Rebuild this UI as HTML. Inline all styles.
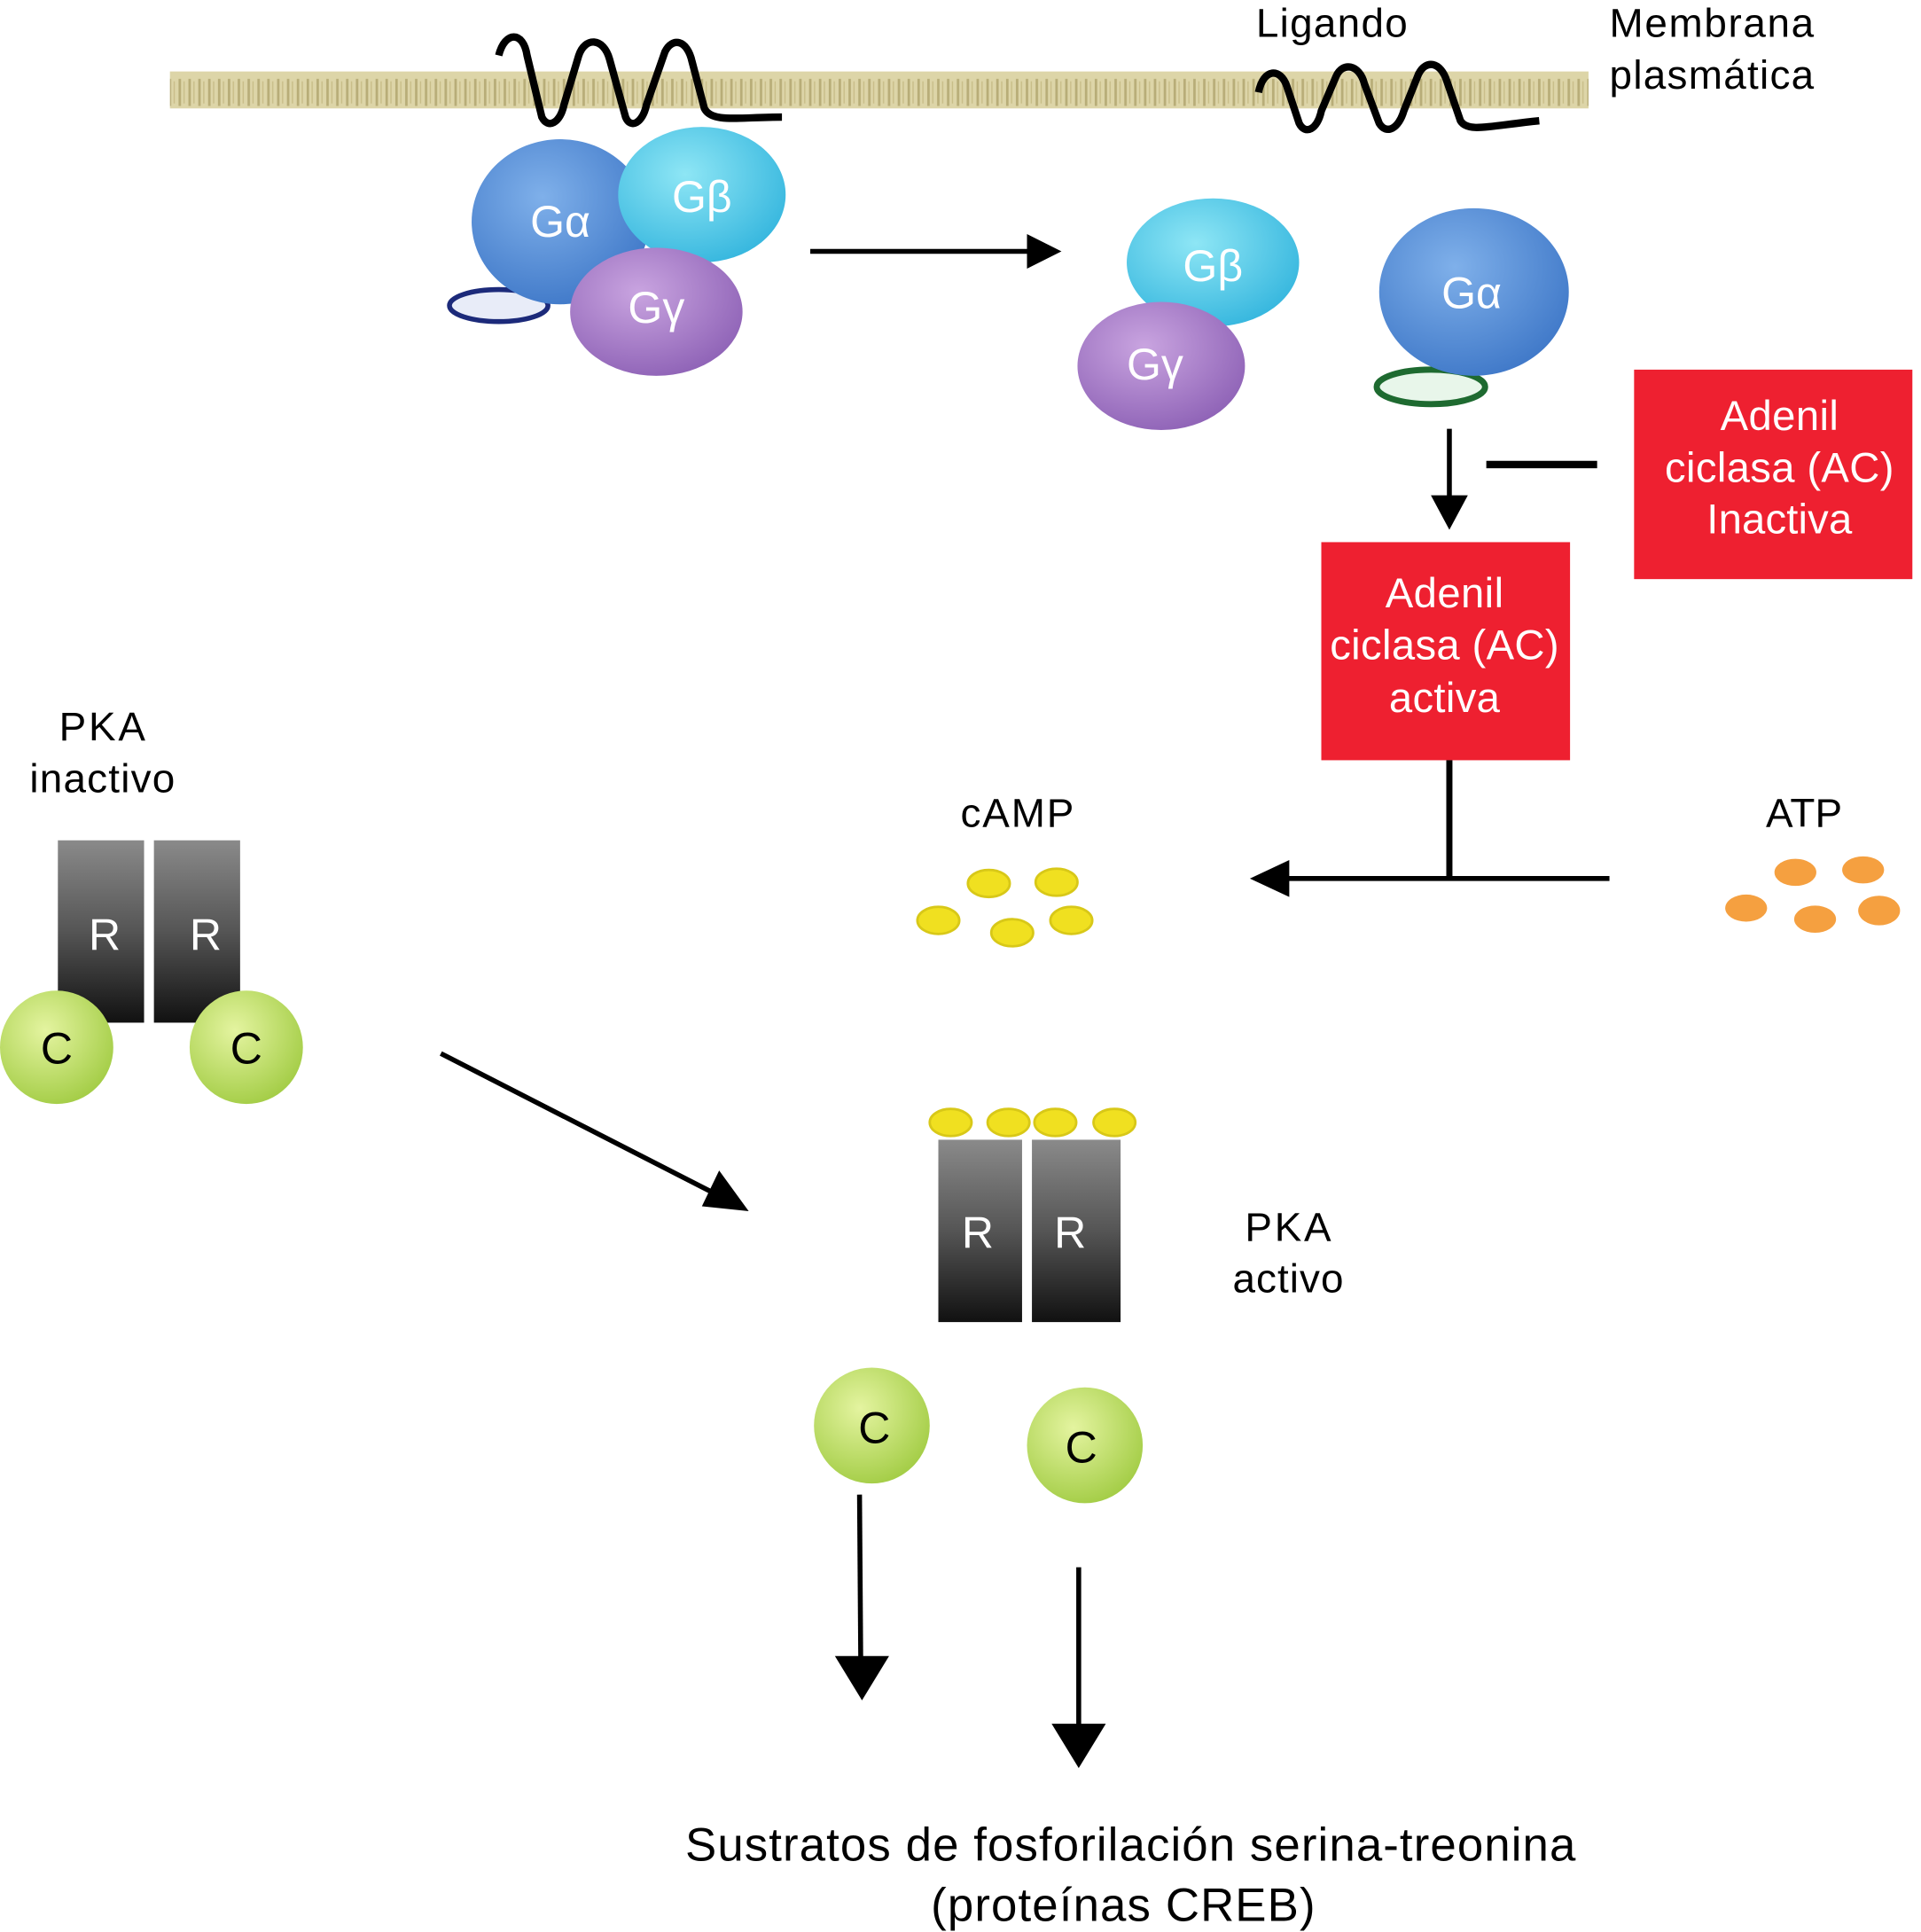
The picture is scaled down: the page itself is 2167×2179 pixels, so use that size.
<!DOCTYPE html>
<html><head><meta charset="utf-8"><style>
html,body{margin:0;padding:0;background:#fff}
svg{display:block}
text{font-family:"Liberation Sans",sans-serif}
</style></head><body>
<svg width="2167" height="2179" viewBox="0 0 1560 1568" preserveAspectRatio="none" xmlns="http://www.w3.org/2000/svg">
<defs>
<radialGradient id="ga" cx="40%" cy="35%" r="70%"><stop offset="0" stop-color="#7fb0ea"/><stop offset="1" stop-color="#3f78c8"/></radialGradient>
<radialGradient id="gb" cx="40%" cy="35%" r="70%"><stop offset="0" stop-color="#8ee6f5"/><stop offset="1" stop-color="#35b6de"/></radialGradient>
<radialGradient id="gg" cx="40%" cy="35%" r="70%"><stop offset="0" stop-color="#c9a4e0"/><stop offset="1" stop-color="#8e62b6"/></radialGradient>
<radialGradient id="gc" cx="40%" cy="35%" r="70%"><stop offset="0" stop-color="#e4f4a0"/><stop offset="1" stop-color="#a2cc44"/></radialGradient>
<linearGradient id="gr" x1="0" y1="0" x2="0" y2="1"><stop offset="0" stop-color="#8a8a8a"/><stop offset="0.5" stop-color="#555"/><stop offset="1" stop-color="#111"/></linearGradient>
<pattern id="mem" width="8" height="30" patternUnits="userSpaceOnUse"><rect width="8" height="30" fill="#ddd5a8"/><rect x="1" y="4" width="2" height="22" fill="#b8ad78"/><rect x="5" y="6" width="1" height="18" fill="#c8bd88"/></pattern>
</defs>
<rect x="138" y="58" width="1152" height="30" fill="url(#mem)"/>
<path d="M405,45 C410,25 425,25 428,45 L440,95 C445,105 455,100 458,85 L470,45 C475,30 490,30 495,48 L508,95 C512,105 522,100 525,85 L540,42 C546,30 558,32 562,50 L572,88 C578,100 600,95 635,95" fill="none" stroke="#000" stroke-width="6"/>
<path d="M1022,75 C1026,55 1040,55 1045,70 L1055,100 C1060,110 1070,105 1073,90 L1085,62 C1090,50 1104,52 1108,68 L1120,100 C1126,110 1136,104 1140,90 L1152,60 C1158,48 1170,50 1175,66 L1186,98 C1192,108 1210,102 1250,98" fill="none" stroke="#000" stroke-width="6"/>
<text x="1020" y="30" font-size="33" textLength="123">Ligando</text>
<text x="1307" y="30" font-size="33" textLength="166">Membrana</text>
<text x="1307" y="72" font-size="33" textLength="166">plasmática</text>
<ellipse cx="405" cy="248" rx="40" ry="13" fill="#e8ecf8" stroke="#1c2a7a" stroke-width="4"/>
<ellipse cx="455" cy="180" rx="72" ry="67" fill="url(#ga)"/>
<ellipse cx="570" cy="158" rx="68" ry="55" fill="url(#gb)"/>
<ellipse cx="533" cy="253" rx="70" ry="52" fill="url(#gg)"/>
<text x="455" y="192" font-size="36" fill="#fff" text-anchor="middle">Gα</text>
<text x="570" y="172" font-size="36" fill="#fff" text-anchor="middle">Gβ</text>
<text x="533" y="262" font-size="36" fill="#fff" text-anchor="middle">Gγ</text>
<line x1="658" y1="204" x2="838" y2="204" stroke="#000" stroke-width="4"/>
<polygon points="862,204 834,190 834,218" fill="#000"/>
<ellipse cx="985" cy="213" rx="70" ry="52" fill="url(#gb)"/>
<ellipse cx="943" cy="297" rx="68" ry="52" fill="url(#gg)"/>
<text x="985" y="228" font-size="36" fill="#fff" text-anchor="middle">Gβ</text>
<text x="938" y="308" font-size="36" fill="#fff" text-anchor="middle">Gγ</text>
<ellipse cx="1162" cy="314" rx="44" ry="14" fill="#e8f6ea" stroke="#1e6a30" stroke-width="5"/>
<ellipse cx="1197" cy="237" rx="77" ry="68" fill="url(#ga)"/>
<text x="1195" y="250" font-size="36" fill="#fff" text-anchor="middle">Gα</text>
<line x1="1177" y1="348" x2="1177" y2="405" stroke="#000" stroke-width="4"/>
<polygon points="1177,430 1162,402 1192,402" fill="#000"/>
<line x1="1207" y1="377" x2="1297" y2="377" stroke="#000" stroke-width="6"/>
<rect x="1327" y="300" width="226" height="170" fill="#ee2030"/>
<text x="1445" y="349" font-size="34" fill="#fff" text-anchor="middle" textLength="96">Adenil</text>
<text x="1445" y="391" font-size="34" fill="#fff" text-anchor="middle" textLength="186">ciclasa (AC)</text>
<text x="1445" y="433" font-size="34" fill="#fff" text-anchor="middle" textLength="118">Inactiva</text>
<rect x="1073" y="440" width="202" height="177" fill="#ee2030"/>
<text x="1173" y="493" font-size="34" fill="#fff" text-anchor="middle" textLength="96">Adenil</text>
<text x="1173" y="535" font-size="34" fill="#fff" text-anchor="middle" textLength="186">ciclasa (AC)</text>
<text x="1173" y="578" font-size="34" fill="#fff" text-anchor="middle" textLength="90">activa</text>
<line x1="1177" y1="617" x2="1177" y2="713" stroke="#000" stroke-width="5"/>
<line x1="1307" y1="713" x2="1040" y2="713" stroke="#000" stroke-width="4"/>
<polygon points="1015,713 1047,698 1047,728" fill="#000"/>
<text x="826" y="671" font-size="33" text-anchor="middle" textLength="92">cAMP</text>
<text x="1465" y="671" font-size="33" text-anchor="middle" textLength="62">ATP</text>
<g fill="#f0e020" stroke="#d8c818" stroke-width="2">
<ellipse cx="803" cy="717" rx="17" ry="11"/><ellipse cx="858" cy="716" rx="17" ry="11"/><ellipse cx="762" cy="747" rx="17" ry="11"/><ellipse cx="822" cy="757" rx="17" ry="11"/><ellipse cx="870" cy="747" rx="17" ry="11"/>
</g>
<g fill="#f5a040">
<ellipse cx="1458" cy="708" rx="17" ry="11"/><ellipse cx="1513" cy="706" rx="17" ry="11"/><ellipse cx="1418" cy="737" rx="17" ry="11"/><ellipse cx="1474" cy="746" rx="17" ry="11"/><ellipse cx="1526" cy="739" rx="17" ry="12"/>
</g>
<text x="83" y="601" font-size="33" text-anchor="middle" textLength="70">PKA</text>
<text x="83" y="643" font-size="33" text-anchor="middle" textLength="118">inactivo</text>
<rect x="47" y="682" width="70" height="148" fill="url(#gr)"/>
<rect x="125" y="682" width="70" height="148" fill="url(#gr)"/>
<text x="85" y="771" font-size="36" fill="#fff" text-anchor="middle">R</text>
<text x="167" y="771" font-size="36" fill="#fff" text-anchor="middle">R</text>
<circle cx="46" cy="850" r="46" fill="url(#gc)"/>
<circle cx="200" cy="850" r="46" fill="url(#gc)"/>
<text x="46" y="863" font-size="36" text-anchor="middle">C</text>
<text x="200" y="863" font-size="36" text-anchor="middle">C</text>
<line x1="358" y1="855" x2="585" y2="971" stroke="#000" stroke-width="4"/>
<polygon points="608,983 570,979 584,950" fill="#000"/>
<g fill="#f0e020" stroke="#d8c818" stroke-width="2">
<ellipse cx="772" cy="911" rx="17" ry="11"/><ellipse cx="819" cy="911" rx="17" ry="11"/><ellipse cx="857" cy="911" rx="17" ry="11"/><ellipse cx="905" cy="911" rx="17" ry="11"/>
</g>
<rect x="762" y="925" width="68" height="148" fill="url(#gr)"/>
<rect x="838" y="925" width="72" height="148" fill="url(#gr)"/>
<text x="794" y="1013" font-size="36" fill="#fff" text-anchor="middle">R</text>
<text x="869" y="1013" font-size="36" fill="#fff" text-anchor="middle">R</text>
<text x="1046" y="1007" font-size="33" text-anchor="middle" textLength="70">PKA</text>
<text x="1046" y="1049" font-size="33" text-anchor="middle" textLength="90">activo</text>
<circle cx="708" cy="1157" r="47" fill="url(#gc)"/>
<circle cx="881" cy="1173" r="47" fill="url(#gc)"/>
<text x="710" y="1171" font-size="36" text-anchor="middle">C</text>
<text x="878" y="1187" font-size="36" text-anchor="middle">C</text>
<line x1="698" y1="1213" x2="699" y2="1350" stroke="#000" stroke-width="4"/>
<polygon points="700,1380 678,1344 722,1344" fill="#000"/>
<line x1="876" y1="1272" x2="876" y2="1405" stroke="#000" stroke-width="4"/>
<polygon points="876,1435 854,1399 898,1399" fill="#000"/>
<text x="918" y="1510" font-size="38" text-anchor="middle" textLength="723">Sustratos de fosforilación serina-treonina</text>
<text x="912" y="1559" font-size="38" text-anchor="middle" textLength="312">(proteínas CREB)</text>
</svg>
</body></html>
